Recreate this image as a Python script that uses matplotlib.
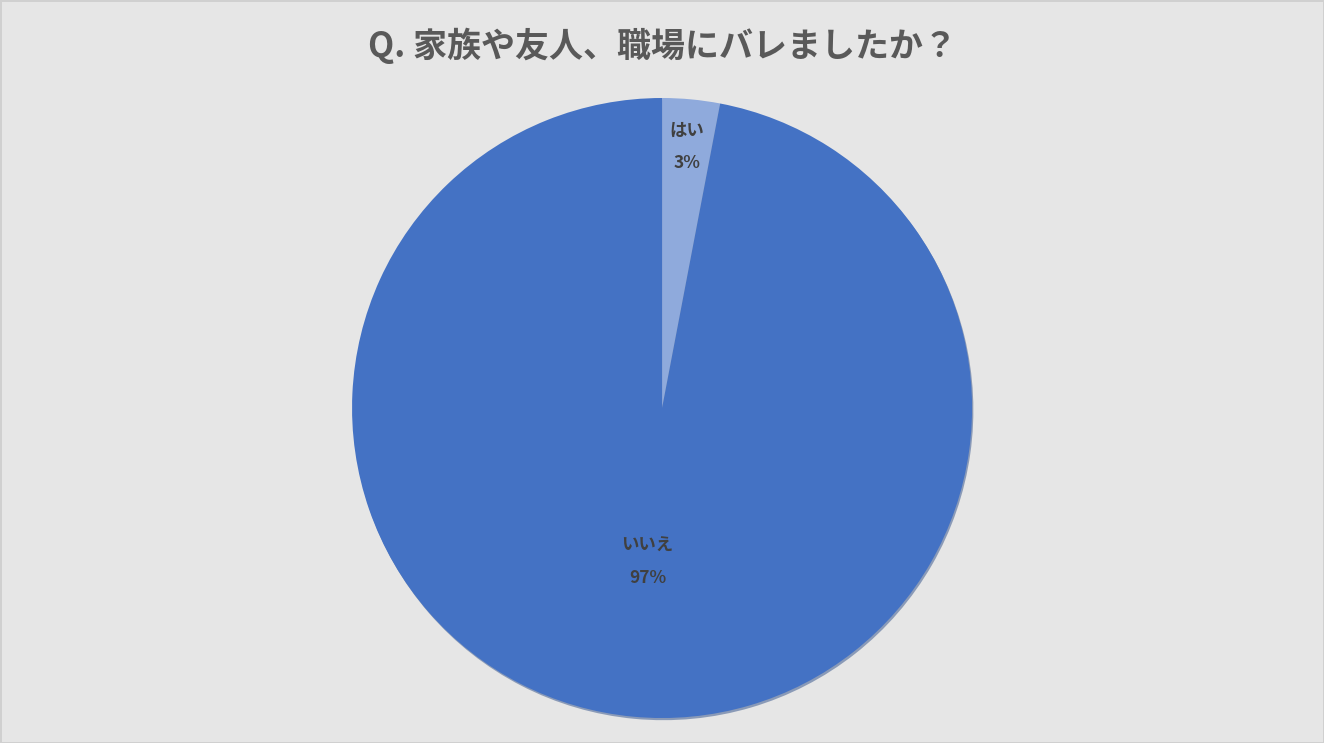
import numpy as np
import matplotlib.pyplot as plt

plt.rcParams['font.family'] = ['Noto Sans CJK JP', 'DejaVu Sans']

# Data
labels = ['はい', 'いいえ']
values = [3, 97]
colors = ['#8FAADC', '#4472C4']
label_dist = [0.845, 0.5]
title = 'Q. 家族や友人、職場にバレましたか？'

fig = plt.figure(figsize=(13.24, 7.43), dpi=100)
fig.patch.set_facecolor('#E6E6E6')
fig.patch.set_edgecolor('#D0D0D0')
fig.patch.set_linewidth(2)

ax = fig.add_axes([0.2659, 0.0336, 0.4683, 0.8345])
ax.set_facecolor('none')

wedges, _ = ax.pie(values, colors=colors, startangle=90, counterclock=False,
                   wedgeprops={'linewidth': 0},
                   shadow={'ox': 0.003, 'oy': -0.005, 'shade': 0.3})

# Labels inside the slices
for w, lab, v, d in zip(wedges, labels, values, label_dist):
    ang = np.deg2rad((w.theta1 + w.theta2) / 2)
    x, y = d * np.cos(ang), d * np.sin(ang)
    ax.text(x, y + 0.052, lab, ha='center', va='center', fontsize=12.5,
            fontweight='bold', color='#404040')
    ax.text(x, y - 0.052, f'{v}%', ha='center', va='center', fontsize=12.5,
            fontweight='bold', color='#404040')

ax.set_xlim(-1, 1)
ax.set_ylim(-1, 1)
ax.set_aspect('equal')

fig.text(0.5, 0.939, title, ha='center', va='center', fontsize=24.5,
         fontweight='bold', color='#595959')

fig.savefig('out.png', dpi=100, facecolor=fig.get_facecolor(),
            edgecolor=fig.get_edgecolor())
